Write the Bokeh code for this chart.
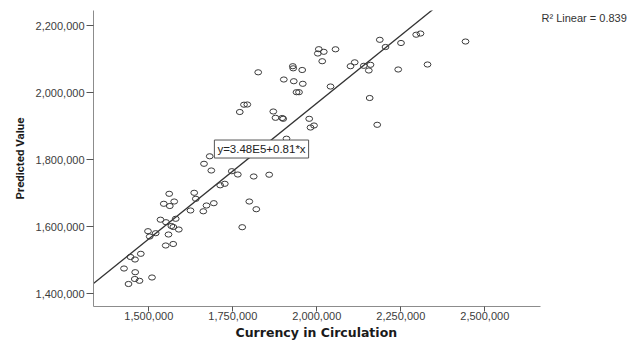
import numpy as np
from bokeh.plotting import figure
from bokeh.models import Range1d, FixedTicker, NumeralTickFormatter, Label, ColumnDataSource, Title
from bokeh.embed import file_html
from bokeh.resources import INLINE

# ---- data ----
currency_in_circulation = [
    1439600, 1458300, 1472300, 1509500, 1426200, 1459500, 1445500, 1458900, 1476200,
    1497600, 1502700, 1520500, 1558600, 1550300, 1572600, 1534800, 1551200, 1580100,
    1567000, 1572900, 1589300, 1544600, 1562500, 1575600, 1560700, 1624100, 1662200,
    1671700, 1693500, 1635100, 1639900, 1681300, 1664300, 1686000, 1747000, 1764900,
    1812200, 1858300, 1712500, 1726200, 1799100, 1819900, 1778000,
    1909800, 1770800, 1783300, 1793200, 1870500, 1877100, 1897000, 1900000, 1977400,
    1981300, 1991700, 2040800, 1939600, 1947000, 1901800, 1931500, 1958300, 1825600,
    1928600, 1929800, 1956500, 2006000, 2020800, 2003000, 2055700, 2016100, 2100300,
    2112800, 2139900, 2159800, 2154800, 2242300, 2329500, 2157400, 2179800, 2187500,
    2204500, 2250600, 2295800, 2308600, 2442600,
]
predicted_value = [
    1428400, 1443300, 1437900, 1447800, 1474600, 1463600, 1509000, 1501500, 1518500,
    1586000, 1570100, 1580000, 1576100, 1543300, 1547800, 1620300, 1612800, 1623000,
    1601500, 1598500, 1591000, 1667800, 1661200, 1674600, 1697600, 1647800, 1645400,
    1662700, 1669600, 1700600, 1682700, 1809600, 1787200, 1767200, 1765100, 1755200,
    1749300, 1754600, 1723000, 1727500, 1674600, 1651600, 1597900,
    1862100, 1941800, 1963600, 1964200, 1943300, 1924500, 1923900, 1921500, 1921500,
    1895500, 1901500, 2017900, 2000900, 2000900, 2038800, 2033700, 2026000, 2060300,
    2078500, 2072200, 2067200, 2129300, 2121500, 2116400, 2129000, 2093400, 2078500,
    2090100, 2079700, 2082700, 2065700, 2068700, 2083600, 1983600, 1903600, 2157300,
    2135800, 2147800, 2172500, 2176100, 2152200,
]
fit_intercept = 3.48e5
fit_slope = 0.81
x_ticks = [1500000, 1750000, 2000000, 2250000, 2500000]
y_ticks = [1400000, 1600000, 1800000, 2000000, 2200000]
x_title = "Currency in Circulation"
y_title = "Predicted Value"
fit_text = "y=3.48E5+0.81*x"
r2_text = "R\u00b2 Linear = 0.839"

# ---- figure ----
x_lo, x_axis_end, x_hi = 1335400, 2665800, 2951500
y_lo, y_hi = 1361200, 2244800

p = figure(width=636, height=340, output_backend="svg", toolbar_location=None,
           x_range=Range1d(x_lo, x_hi), y_range=Range1d(y_lo, y_hi),
           min_border_left=93, min_border_right=0, min_border_top=10, min_border_bottom=34)
p.outline_line_color = None
p.xgrid.visible = False
p.ygrid.visible = False
p.background_fill_color = "white"
p.border_fill_color = "white"

for ax in (p.xaxis[0], p.yaxis[0]):
    ax.formatter = NumeralTickFormatter(format="0,0")
    ax.axis_line_color = "#8c8c8c"
    ax.axis_line_width = 1
    ax.major_tick_line_color = "#555555"
    ax.major_tick_in = 0
    ax.minor_tick_line_color = None
    ax.major_label_text_font = "Liberation Sans"
    ax.major_label_text_font_size = "11px"
    ax.major_label_text_color = "#3c3c3c"
    ax.axis_label_text_color = "#1a1a1a"
    ax.axis_label_text_font_style = "bold"

p.xaxis[0].ticker = FixedTicker(ticks=x_ticks)
p.yaxis[0].ticker = FixedTicker(ticks=y_ticks)
p.xaxis[0].bounds = (x_lo, x_axis_end)
p.yaxis[0].bounds = (y_lo, y_hi)
p.xaxis[0].major_tick_out = 5
p.xaxis[0].major_label_standoff = 0
p.yaxis[0].major_tick_out = 7
p.yaxis[0].major_label_standoff = 2

p.yaxis[0].axis_label = y_title
p.yaxis[0].axis_label_text_font = "Roboto"
p.yaxis[0].axis_label_text_font_size = "11.5px"
p.yaxis[0].axis_label_standoff = 6

# x title, centred under the drawn part of the axis
p.add_layout(Title(text=x_title, align="left", offset=142, standoff=0,
                   text_font="DejaVu Sans", text_font_style="bold",
                   text_font_size="12.5px", text_color="#1a1a1a"), "below")

# regression line
fx = np.array([x_lo, x_axis_end], dtype=float)
fy = fit_intercept + fit_slope * fx
p.line(fx, fy, line_color="#333333", line_width=1.3)

src = ColumnDataSource(dict(x=currency_in_circulation, y=predicted_value))
p.ellipse(x="x", y="y", width=6.8, height=5.2, width_units="screen", height_units="screen",
          source=src, fill_color=None, line_color="#3a3a3a", line_width=1)

# fit equation box
p.add_layout(Label(x=1835400, y=1831300, text=fit_text, text_align="center",
                   text_baseline="middle", text_font="Liberation Sans", text_font_size="11.5px",
                   text_color="#222222", background_fill_color="white",
                   border_line_color="#555555", border_line_width=1, padding=3))

# R^2 text
p.add_layout(Label(x=2668700, y=2223900, text=r2_text, text_align="left",
                   text_baseline="middle", text_font="Liberation Sans", text_font_size="11px",
                   text_color="#333333"))

open("out.html", "w").write(file_html(p, INLINE))
